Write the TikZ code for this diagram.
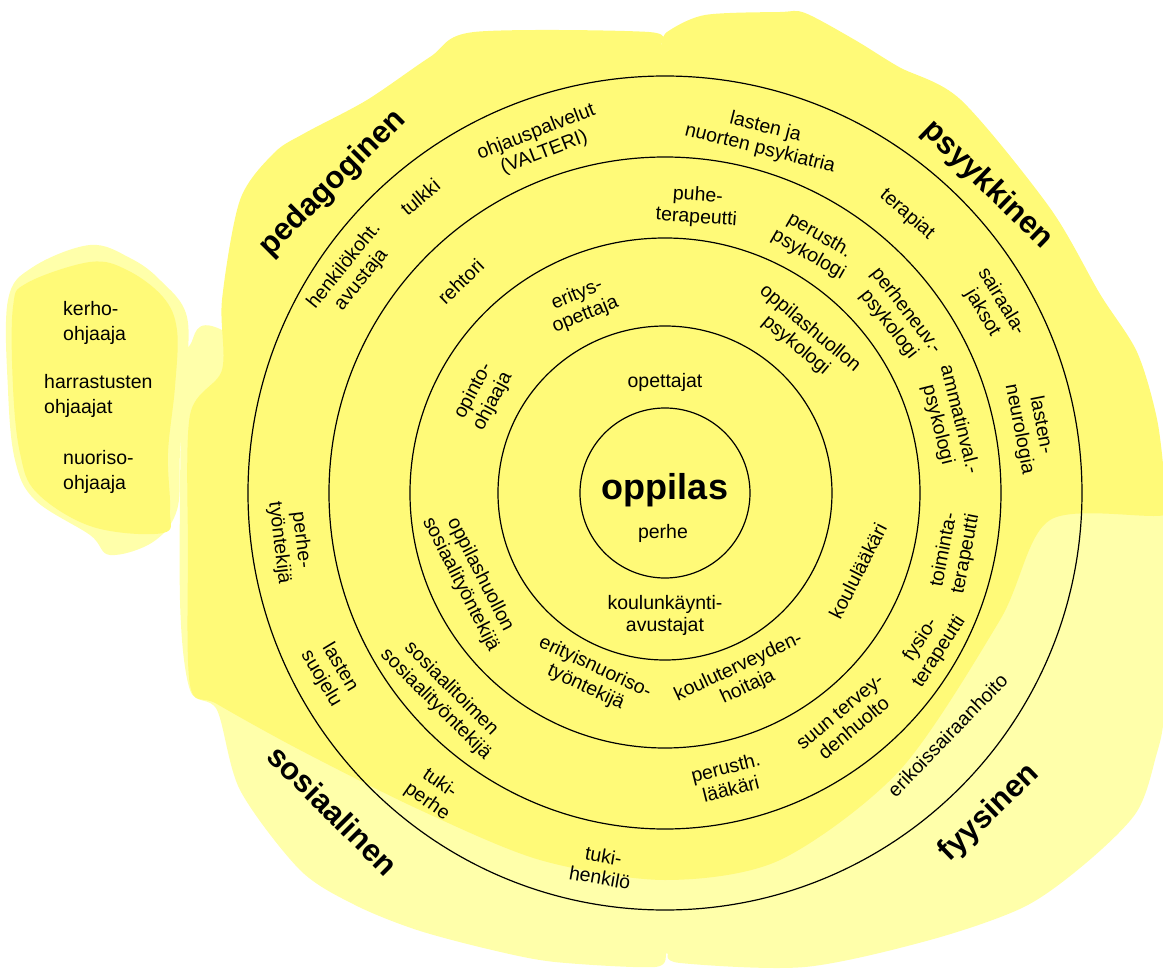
\documentclass[tikz,border=0pt]{standalone}
\usepackage{fontspec}
\setmainfont{Liberation Sans}
\definecolor{sunny}{RGB}{255,250,120}
\definecolor{palesun}{RGB}{255,255,170}

\begin{document}
\begin{tikzpicture}[x = 1pt, y = 1pt,
  rolebox/.style = {font = \fontsize{19.5}{22}\selectfont, align = center, inner sep = 0pt},
  sectorname/.style = {font = \fontsize{31}{33}\selectfont\bfseries, inner sep = 0pt},
  sidebox/.style = {font = \fontsize{19.5}{25}\selectfont, align = left, anchor = west, inner sep = 0pt},
  ringline/.style = {line width = 1.2pt}]

\useasboundingbox (-665, -477) rectangle (498, 493);

\fill[palesun] plot[smooth cycle, tension = 0.6] coordinates {(-575,248) (-632,226) (-657,193) (-657,103) (-650,33)
  (-630,-7) (-575,-42) (-555,-62) (-512,-49) (-488,-17) (-485,40) (-480,106) (-478,176) (-505,213) (-535,235)};
\fill[sunny] plot[smooth cycle, tension = 0.6] coordinates {(-575,231) (-638,210) (-652,186) (-652,106) (-645,40)
  (-628,0) (-572,-34) (-502,-40) (-495,-17) (-497,40) (-490,106) (-488,163) (-502,196) (-538,223)};

\fill[palesun] plot[smooth cycle, tension = 0.5] coordinates {(-443,163) (-475,148) (-483,113) (-485,-107) (-475,-197)
  (-448,-217) (-425,-297) (-365,-377) (-310,-412) (-248,-437) (-173,-457) (-110,-469) (-10,-474) (2,-460) (15,-470)
  (140,-474) (265,-447) (359,-414) (421,-370) (471,-320) (490,-267) (500,-207) (500,-7) (235,43) (-265,43)};
\fill[sunny] plot[smooth cycle, tension = 0.5] coordinates {(-425,293) (-391,340) (-360,360) (-298,393) (-235,436)
  (-191,461) (-16,461) (-4,448) (2,461) (40,478) (115,481) (140,480) (190,453) (234,426) (296,393) (385,285)
  (435,199) (472,141) (492,74) (500,7) (500,-22) (385,-27) (335,-127) (235,-277) (115,-367) (0,-387) (-125,-367)
  (-245,-317) (-365,-257) (-448,-211) (-475,-192) (-477,-57) (-475,78) (-443,123) (-443,193)};

\foreach \r in {85, 167, 255, 336, 417}
  \draw[ringline] (0, 0) circle (\r);

\node[font = \fontsize{36}{38}\selectfont\bfseries, inner sep = 0pt] (oppilas) at (0, 3) {oppilas};
\node[rolebox] (perhe) at (-2, -40) {perhe};
\node[rolebox] (opettajat) at (90:111) {opettajat};
\node[rolebox] (avustajat) at (270:122) {koulunkäynti-\\avustajat};

\node[rolebox, rotate = 22] (erityisopettaja) at (114:206) {eritys-\\opettaja};
\node[rolebox, rotate = 62] (opo) at (152:206) {opinto-\\ohjaaja};
\node[rolebox, rotate = -40] (ohpsykologi) at (48.5:208) {oppilashuollon\\psykologi};
\node[rolebox, rotate = -63] (ohsosiaali) at (204:213) {oppilashuollon\\sosiaalityöntekijä};
\node[rolebox, rotate = -25] (nuorisotyo) at (248:199) {erityisnuoriso-\\työntekijä};
\node[rolebox, rotate = 25] (terveydenhoitaja) at (293:200) {kouluterveyden-\\hoitaja};
\node[rolebox, rotate = 63] (koululaakari) at (338:208) {koululääkäri};

\node[rolebox, rotate = 44] (rehtori) at (134:294) {rehtori};
\node[rolebox, rotate = -4] (puheterapeutti) at (83.6:288) {puhe-\\terapeutti};
\node[rolebox, rotate = -30] (psykologi) at (59:289) {perusth.\\psykologi};
\node[rolebox, rotate = -52] (perheneuv) at (37:291) {perheneuv.-\\psykologi};
\node[rolebox, rotate = -76] (ammatinval) at (14:292) {ammatinval.-\\psykologi};
\node[rolebox, rotate = 79] (toimintaterapeutti) at (348.5:296) {toiminta-\\terapeutti};
\node[rolebox, rotate = 57] (fysioterapeutti) at (330:306) {fysio-\\terapeutti};
\node[rolebox, rotate = 40] (hammashoito) at (308.7:291) {suun tervey-\\denhuolto};
\node[rolebox, rotate = 14] (laakari) at (282.5:292) {perusth.\\lääkäri};
\node[rolebox, rotate = -45] (sosiaalitoimi) at (222.6:301) {sosiaalitoimen\\sosiaalityöntekijä};

\node[rolebox, rotate = 51] (avustaja) at (144.8:382) {henkilökoht.\\avustaja};
\node[rolebox, rotate = 40] (tulkki) at (129.6:384) {tulkki};
\node[rolebox, rotate = 21] (valteri) at (109.6:372) {ohjauspalvelut\\(VALTERI)};
\node[rolebox, rotate = -14] (psykiatria) at (74.6:368) {lasten ja\\nuorten psykiatria};
\node[rolebox, rotate = -41] (terapiat) at (49:369) {terapiat};
\node[rolebox, rotate = -59] (sairaala) at (29.6:376) {sairaala-\\jaksot};
\node[rolebox, rotate = -79] (neurologia) at (10.2:371) {lasten-\\neurologia};
\node[rolebox, rotate = 46] (erikois) at (319.4:372) {erikoissairaanhoito};
\node[rolebox, rotate = -10] (tukihenkilo) at (260.4:379) {tuki-\\henkilö};
\node[rolebox, rotate = -35] (tukiperhe) at (232.3:379) {tuki-\\perhe};
\node[rolebox, rotate = -59] (suojelu) at (208.3:380) {lasten\\suojelu};
\node[rolebox, rotate = -83] (perhetyo) at (187.4:378) {perhe-\\työntekijä};

\node[sectorname, rotate = 45] (pedagoginen) at (137:454) {pedagoginen};
\node[sectorname, rotate = -44] (psyykkinen) at (43.7:446) {psyykkinen};
\node[sectorname, rotate = -45] (sosiaalinen) at (223.7:459) {sosiaalinen};
\node[sectorname, rotate = 44] (fyysinen) at (315.4:456) {fyysinen};

\node[sidebox] (kerho) at (-602, 170) {kerho-\\ohjaaja};
\node[sidebox] (harrastus) at (-621, 97) {harrastusten\\ohjaajat};
\node[sidebox] (nuoriso) at (-602, 21) {nuoriso-\\ohjaaja};

\end{tikzpicture}
\end{document}
